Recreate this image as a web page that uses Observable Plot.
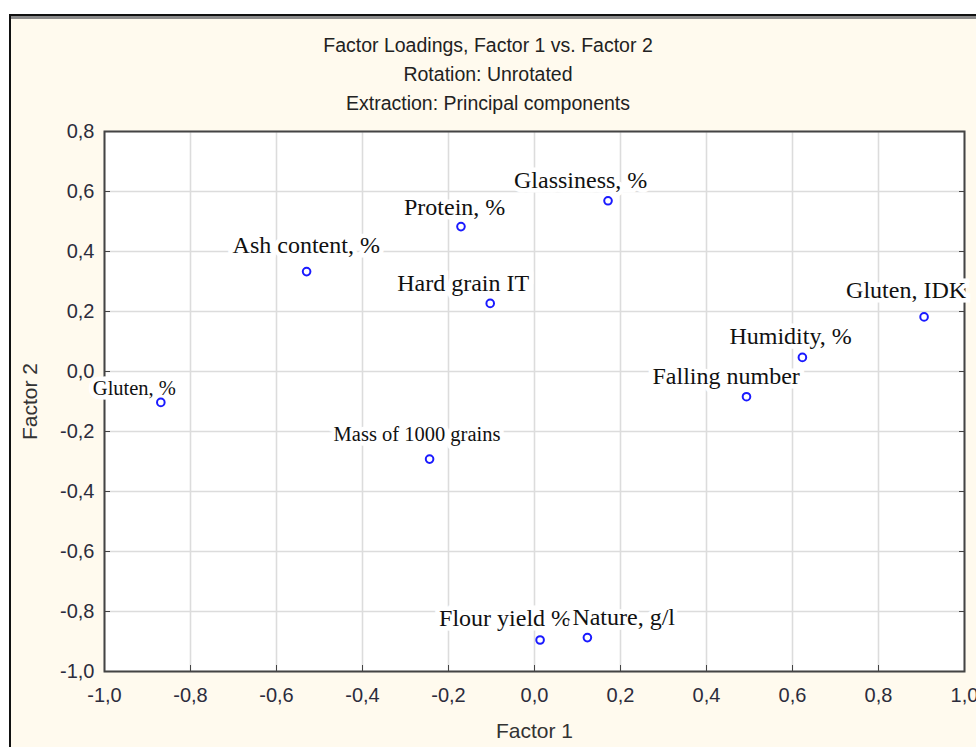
<!DOCTYPE html>
<html>
<head>
<meta charset="utf-8">
<script src="https://cdn.jsdelivr.net/npm/d3@7"></script>
<script src="https://cdn.jsdelivr.net/npm/@observablehq/plot@0.6"></script>
<style>
  html, body { margin: 0; padding: 0; background: #ffffff; }
  #wrap { position: relative; width: 976px; height: 747px; overflow: hidden; }
  #panel { position: absolute; left: 9px; top: 14px; right: -10px; bottom: -10px;
           background: #fffaee; border-left: 2px solid #111; border-top: 2px solid #111;
           box-shadow: inset 0 3px 0 #8a8a8a; }
  #title { position: absolute; left: 0; top: 31px; width: 976px; text-align: center;
           font-family: "Liberation Sans", Arial, sans-serif; font-size: 19.5px; color: #222;
           line-height: 29px; }
  #chart { position: absolute; left: 0; top: 120px; }
</style>
</head>
<body>
<div id="wrap">
  <div id="panel"></div>
  <div id="title"></div>
  <div id="chart"></div>
</div>
<script>
// ---- data ----
const titleLines = ["Factor Loadings, Factor 1 vs. Factor 2", "Rotation: Unrotated", "Extraction: Principal components"];
const variables = ["Gluten, %", "Ash content, %", "Protein, %", "Hard grain IT", "Glassiness, %", "Gluten, IDK",
                   "Humidity, %", "Falling number", "Mass of 1000 grains", "Flour yield %", "Nature, g/l"];
const factor1 = [-0.869, -0.530, -0.171, -0.103, 0.171, 0.906, 0.623, 0.493, -0.244, 0.013, 0.123];
const factor2 = [-0.103, 0.333, 0.483, 0.227, 0.569, 0.182, 0.047, -0.084, -0.292, -0.895, -0.887];
const xTicks = [-1.0, -0.8, -0.6, -0.4, -0.2, 0.0, 0.2, 0.4, 0.6, 0.8, 1.0];
const yTicks = [-1.0, -0.8, -0.6, -0.4, -0.2, 0.0, 0.2, 0.4, 0.6, 0.8];
const xLabel = "Factor 1";
const yLabel = "Factor 2";

// label placement (pixel offsets of the label's left baseline from its point) and font size
const labelPlacement = {
  "Gluten, %": [-68, -7, 20.5],
  "Ash content, %": [-74, -19, 24],
  "Protein, %": [-57, -12, 24],
  "Hard grain IT": [-93, -12, 24],
  "Glassiness, %": [-94, -13, 24],
  "Gluten, IDK": [-78, -19, 24],
  "Humidity, %": [-73, -13, 24],
  "Falling number": [-94, -13, 24],
  "Mass of 1000 grains": [-96, -18, 20.5],
  "Flour yield %": [-101, -14, 24],
  "Nature, g/l": [-15, -13, 24]
};

document.getElementById("title").innerHTML = titleLines.map(t => `<div>${t}</div>`).join("");

const rows = variables.map((name, i) => ({name, f1: factor1[i], f2: factor2[i]}));
const fmt = d => d3.format(".1f")(d).replace(".", ",").replace("\u2212", "-");

const labelMarks = rows.map(r => {
  const [dx, dy, fs] = labelPlacement[r.name];
  return Plot.text([r], {
    x: "f1", y: "f2", text: "name", dx, dy, textAnchor: "start", lineAnchor: "bottom",
    fontFamily: "'Liberation Serif', 'Times New Roman', serif", fontSize: fs, fill: "#111",
    stroke: "white", strokeWidth: 9, strokeLinejoin: "miter", paintOrder: "stroke"
  });
});

const plot = Plot.plot({
  width: 976,
  height: 627,
  marginLeft: 104,
  marginRight: 12,
  marginTop: 11,
  marginBottom: 76,
  style: {background: "transparent", fontFamily: "'Liberation Sans', Arial, sans-serif", fontSize: "20px", color: "#333"},
  x: {domain: [-1, 1]},
  y: {domain: [-1, 0.8]},
  marks: [
    Plot.frame({fill: "white"}),
    Plot.gridX(xTicks, {stroke: "#dcdcdc", strokeOpacity: 1, strokeWidth: 1.6}),
    Plot.gridY(yTicks, {stroke: "#dcdcdc", strokeOpacity: 1, strokeWidth: 1.6}),
    Plot.axisX(xTicks, {tickSize: -6, tickPadding: 22, tickFormat: fmt, stroke: "#444", fill: "#2c2c3c", fontSize: 20,
      label: null}),
    Plot.axisY(yTicks, {tickSize: -6, tickPadding: 16, tickFormat: fmt, stroke: "#444", fill: "#2c2c3c", fontSize: 20,
      label: null}),
    Plot.axisX({ticks: [], label: xLabel, labelAnchor: "center", labelOffset: 66, labelArrow: "none", fontSize: 21, fill: "#333"}),
    Plot.axisY({ticks: [], label: yLabel, labelAnchor: "center", labelOffset: 82, labelArrow: "none", fontSize: 21, fill: "#333"}),
    Plot.axisY(yTicks, {anchor: "right", tickSize: -6, tickFormat: () => "", stroke: "#444", label: null}),
    Plot.frame({stroke: "#444", strokeWidth: 2}),
    ...labelMarks,
    Plot.dot(rows, {x: "f1", y: "f2", r: 3.8, stroke: "#1a1aff", strokeWidth: 2, fill: "none"})
  ]
});
document.getElementById("chart").appendChild(plot);
</script>
</body>
</html>
